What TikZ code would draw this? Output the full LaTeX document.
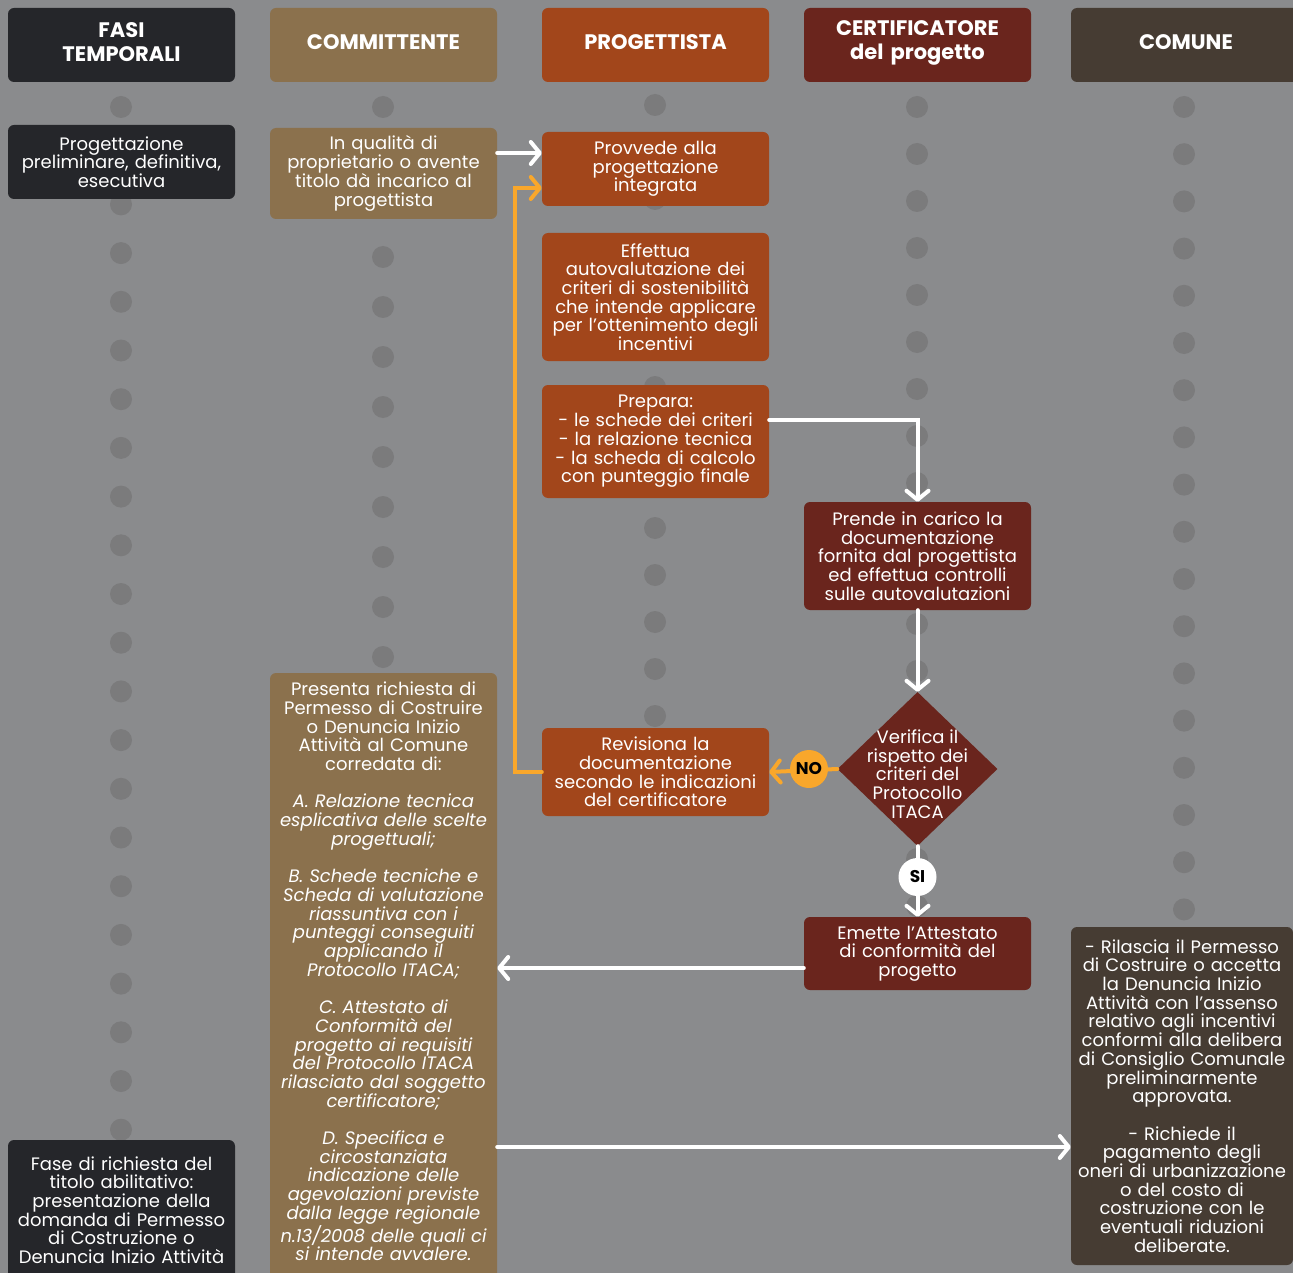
\documentclass[tikz,border=0pt]{standalone}
\usepackage{fontspec}
\setmainfont{Poppins}
\usetikzlibrary{arrows.meta,shapes.geometric,positioning,calc}

\definecolor{bgcol}{HTML}{8A8B8D}
\definecolor{dotcol}{HTML}{7B7B7C}
\definecolor{fasecol}{HTML}{25262A}
\definecolor{commcol}{HTML}{8B714D}
\definecolor{progcol}{HTML}{A2461B}
\definecolor{certcol}{HTML}{6A251D}
\definecolor{comucol}{HTML}{463C33}
\definecolor{backcol}{HTML}{F9A72B}

\begin{document}
\begin{tikzpicture}[x=1pt, y=-1pt]
      % Define block styles
      \tikzstyle{box} = [rectangle, rounded corners=6pt, text=white, align=center, text width=215pt, inner xsep=6pt, inner ysep=0pt, font=\fontsize{18}{18.7}\selectfont]
      \tikzstyle{head} = [box, minimum height=74pt, font=\fontsize{21}{24}\selectfont\bfseries]
      \tikzstyle{fase} = [fill=fasecol]
      \tikzstyle{comm} = [fill=commcol]
      \tikzstyle{prog} = [fill=progcol]
      \tikzstyle{cert} = [fill=certcol]
      \tikzstyle{comu} = [fill=comucol]
      \tikzstyle{decision} = [diamond, fill=certcol, minimum width=160pt, minimum height=154pt, inner sep=0pt]
      \tikzstyle{badge} = [circle, minimum size=38pt, inner sep=0pt, text=black, font=\fontsize{17}{20}\selectfont\bfseries]
      \tikzstyle{bead} = [fill=dotcol]
      \tikzstyle{line} = [draw=white, line width=4pt, line cap=round, -{Straight Barb[round, length=9pt, width=22pt]}]
      \tikzstyle{back} = [line, draw=backcol]

      % Background and lanes
      \useasboundingbox (0,0) rectangle (1293,1273);
      \fill[bgcol] (0,0) rectangle (1293,1273);
      \foreach \x/\y/\d/\n in {121/107/48.7/21, 383/107/50/11, 655/105/47/13, 917/107/47/17, 1184/107/47.2/17}
        \foreach \i in {0,...,\n}
          \fill[bead] (\x,\y+\d*\i) circle (11pt);

      % Place headers
      \node[head, fase] (fasihead) at (121.5,45) {FASI\\TEMPORALI\par\vspace{6pt}};
      \node[head, comm] (commhead) at (383.5,45) {COMMITTENTE\par\vspace{6pt}};
      \node[head, prog] (proghead) at (655.5,45) {PROGETTISTA\par\vspace{6pt}};
      \node[head, cert] (certhead) at (917.5,45) {CERTIFICATORE\\del progetto\par\vspace{4pt}};
      \node[head, comu, text width=218pt] (comuhead) at (1186,45) {COMUNE\par\vspace{6pt}};

      % Place blocks
      \node[box, fase, minimum height=74pt] (fase1) at (121.5,162) {Progettazione\\preliminare, definitiva,\\esecutiva};
      \node[box, comm, minimum height=91pt] (incarico) at (383.5,173.5) {In qualità di\\proprietario o avente\\titolo dà incarico al\\progettista};
      \node[box, prog, minimum height=74pt] (integrata) at (655.5,169) {Provvede alla\\progettazione\\integrata};
      \node[box, prog, minimum height=128pt] (autoval) at (655.5,297) {Effettua\\autovalutazione dei\\criteri di sostenibilità\\che intende applicare\\per l’ottenimento degli\\incentivi};
      \node[box, prog, minimum height=113pt] (prepara) at (655.5,441.5) {Prepara:\\- le schede dei criteri\\- la relazione tecnica\\- la scheda di calcolo\\con punteggio finale};
      \node[box, cert, minimum height=108pt] (presa) at (917.5,556) {Prende in carico la\\documentazione\\fornita dal progettista\\ed effettua controlli\\sulle autovalutazioni};
      \node[decision] (verifica) at (917.5,769) {};
      \node[text=white, align=center, font=\fontsize{18}{18.7}\selectfont] (verificatext) at (917.5,774) {Verifica il\\rispetto dei\\criteri del\\Protocollo\\ITACA};
      \node[box, prog, minimum height=88pt] (revisiona) at (655.5,772) {Revisiona la\\documentazione\\secondo le indicazioni\\del certificatore};
      \node[box, cert, minimum height=73pt] (attestato) at (917.5,953.5) {Emette l’Attestato\\di conformità del\\progetto};
      \node[box, comm, minimum height=612pt] (richiesta) at (383.5,979) {Presenta richiesta di\\Permesso di Costruire\\o Denuncia Inizio\\Attività al Comune\\corredata di:\\[18.7pt]
        {\itshape A. Relazione tecnica\\esplicativa delle scelte\\progettuali;\\[18.7pt]
        B. Schede tecniche e\\Scheda di valutazione\\riassuntiva con i\\punteggi conseguiti\\applicando il\\Protocollo ITACA;\\[18.7pt]
        C. Attestato di\\Conformità del\\progetto ai requisiti\\del Protocollo ITACA\\rilasciato dal soggetto\\certificatore;\\[18.7pt]
        D. Specifica e\\circostanziata\\indicazione delle\\agevolazioni previste\\dalla legge regionale\\n.13/2008 delle quali ci\\si intende avvalere.}\par\vspace{15pt}};
      \node[box, comu, text width=210pt, minimum height=338pt] (rilascio) at (1182,1096) {- Rilascia il Permesso\\di Costruire o accetta\\la Denuncia Inizio\\Attività con l’assenso\\relativo agli incentivi\\conformi alla delibera\\di Consiglio Comunale\\preliminarmente\\approvata.\\[18.7pt]
        - Richiede il\\pagamento degli\\oneri di urbanizzazione\\o del costo di\\costruzione con le\\eventuali riduzioni\\deliberate.};
      \node[box, fase, minimum height=140pt] (fase2) at (121.5,1210) {Fase di richiesta del\\titolo abilitativo:\\presentazione della\\domanda di Permesso\\di Costruzione o\\Denuncia Inizio Attività};

      % Draw lines
      \coordinate (ystart) at (0,153);
      \coordinate (backturn) at (515,188);
      \coordinate (yback) at (0,968);
      \coordinate (yfwd) at (0,1147);
      \path[line] (incarico.east |- ystart) -- (integrata.west |- ystart);
      \path[back] (revisiona.west) -| (backturn) -- (integrata.west |- backturn);
      \path[line] ([yshift=21.5pt]prepara.east) -| (presa.north);
      \path[line] (presa.south) -- (verifica.north);
      \path[back] (verifica.west) -- (revisiona.east);
      \path[line] (verifica.south) -- (attestato.north);
      \path[line] (attestato.west |- yback) -- (richiesta.east |- yback);
      \path[line] (richiesta.east |- yfwd) -- (rilascio.west |- yfwd);

      % Place badges
      \node[badge, fill=backcol] (no) at (809,769) {NO};
      \node[badge, fill=white] (si) at (917.5,877) {SI};
    \end{tikzpicture}
\end{document}
